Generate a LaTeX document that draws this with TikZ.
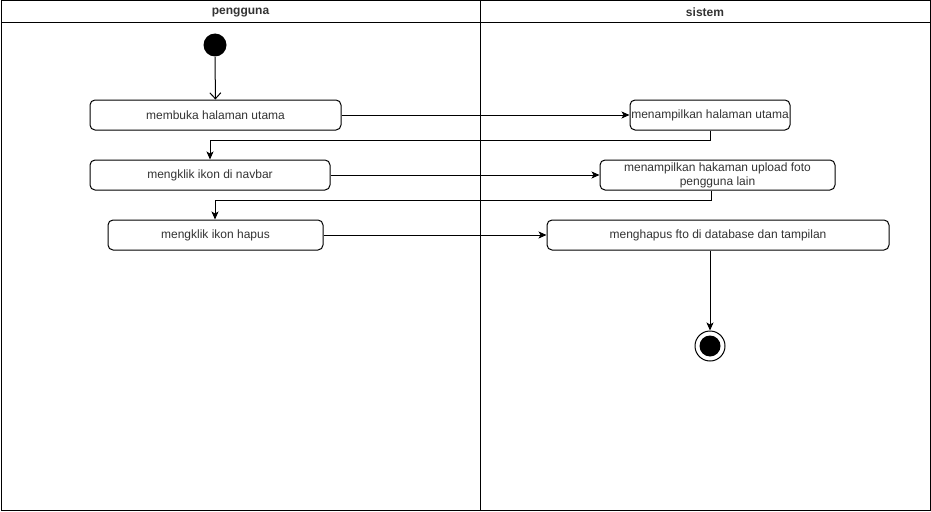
\documentclass[tikz,border=0pt]{standalone}
\usepackage{fontspec}
\setmainfont{Liberation Sans}
\usetikzlibrary{arrows.meta,calc}
\begin{document}
\begin{tikzpicture}[x=1pt,y=-1pt,
  line width=1pt,
  font=\fontsize{12}{14}\selectfont,
  action/.style={draw,rectangle,rounded corners=5pt,minimum height=30pt,
    inner sep=1pt,align=center,text=black!80},
  flow/.style={-{Stealth[length=8pt,width=7pt,inset=2pt]}},
  lanehead/.style={font=\fontsize{12}{14}\selectfont\bfseries,text=black!80}]
\useasboundingbox (0,0) rectangle (931,511);

% swimlanes
\draw (1,0.5) rectangle (930,510);
\draw (1,23) -- (930,23);
\draw (480,0.5) -- (480,510);
\node[lanehead] (lane1) at (240.5,12.5) {pengguna};
\node[lanehead] (lane2) at (705,12.5) {sistem};

% start and end
\node[circle,fill=black,minimum size=23pt,inner sep=0pt] (start) at (215,45) {};
\node[circle,draw,minimum size=30pt,inner sep=0pt] (stop) at (710,346) {};
\node[circle,fill=black,minimum size=21pt,inner sep=0pt] (stopdot) at (710,346) {};

% actions
\node[action,minimum width=251pt] (a1) at (215.5,115) {membuka halaman utama};
\node[action,minimum width=160pt] (s1) at (710,115) {menampilkan halaman utama};
\node[action,minimum width=240pt] (a2) at (210,175) {mengklik ikon di navbar};
\node[action,minimum width=235pt] (s2) at (717.5,175) {menampilkan hakaman upload foto\\pengguna lain};
\node[action,minimum width=215pt] (a3) at (215.5,235) {mengklik ikon hapus};
\node[action,minimum width=342pt] (s3) at (718,235) {menghapus fto di database dan tampilan};

% connectors
\draw[-{Straight Barb[length=6pt,width=11pt]}] (start) -- (a1);
\draw[flow] (a1) -- (s1);
\draw[flow] (s1.south) -- ++(0,10) -| (a2.north);
\draw[flow] (a2) -- (s2.west);
\draw[flow] ($(s2.south)+(-6.5,0)$) -- ++(0,10) -| ($(a3.north)+(-0.5,0)$);
\draw[flow] (a3) -- (s3);
\draw[flow] (stop |- s3.south) -- (stop);
\end{tikzpicture}
\end{document}
